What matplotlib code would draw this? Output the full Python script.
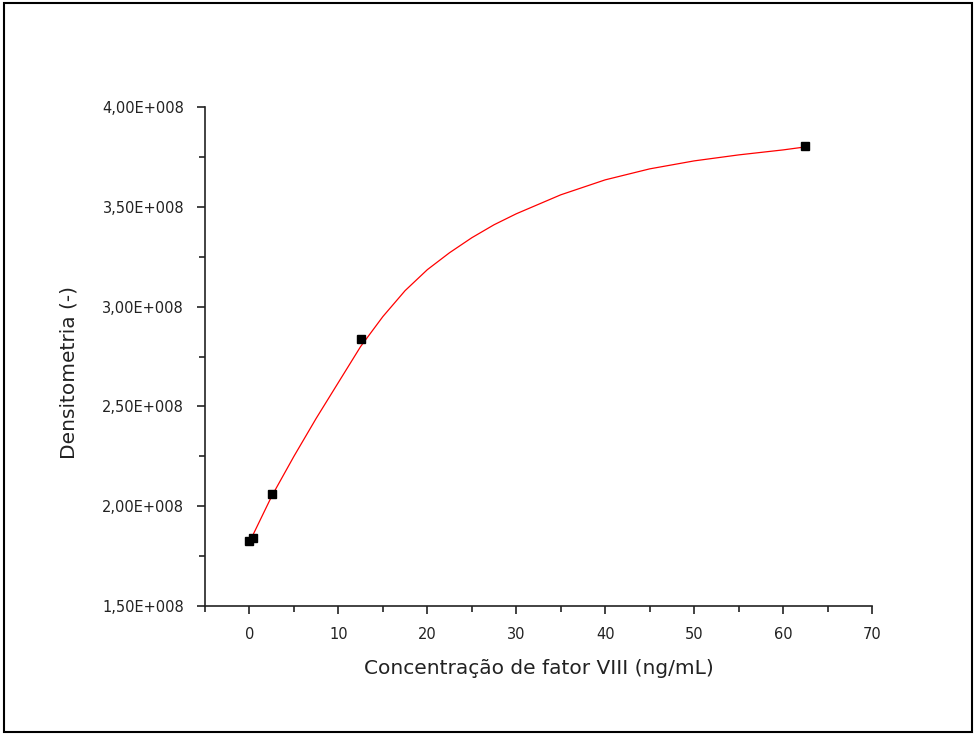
import matplotlib
matplotlib.use("Agg")
import matplotlib.pyplot as plt
from matplotlib.ticker import FuncFormatter, MultipleLocator
from matplotlib.patches import Rectangle
import math

# measured points
conc = [0.0, 0.4, 2.5, 12.5, 62.5]
dens = [1.826e8, 1.84e8, 2.06e8, 2.838e8, 3.805e8]

# fitted curve
fit_x = [0.0, 2.5, 5, 7.5, 10, 12.5, 15, 17.5, 20, 22.5, 25, 27.5, 30,
         35, 40, 45, 50, 55, 60, 62.5]
fit_y = [1.82e8, 2.05e8, 2.25e8, 2.44e8, 2.62e8, 2.80e8, 2.95e8, 3.08e8,
         3.185e8, 3.27e8, 3.345e8, 3.41e8, 3.465e8, 3.56e8, 3.635e8, 3.69e8,
         3.73e8, 3.76e8, 3.785e8, 3.80e8]

x_label = "Concentração de fator VIII (ng/mL)"
y_label = "Densitometria (-)"

plt.rcParams['font.family'] = ['DejaVu Sans']

fig = plt.figure(figsize=(9.75, 7.34), dpi=100)
ax = fig.add_axes([205/975, 1-606/734, (872-205)/975, (606-107)/734])

ax.plot(fit_x, fit_y, color='#ff0000', lw=0.9, zorder=2)
ax.plot(conc, dens, linestyle='none', marker='s', color='black', ms=6, zorder=3)

ax.set_xlim(-5, 70)
ax.set_ylim(1.5e8, 4.0e8)
ax.xaxis.set_major_locator(MultipleLocator(10))
ax.xaxis.set_minor_locator(MultipleLocator(5))
ax.yaxis.set_major_locator(MultipleLocator(0.5e8))
ax.yaxis.set_minor_locator(MultipleLocator(0.25e8))

def yfmt(v, pos):
    if v == 0:
        return "0"
    e = int(math.floor(math.log10(abs(v))))
    m = v / 10**e
    return f"{m:.2f}".replace('.', ',') + f"E+{e:03d}"

ax.yaxis.set_major_formatter(FuncFormatter(yfmt))

for s in ['top', 'right']:
    ax.spines[s].set_visible(False)
for s in ['left', 'bottom']:
    ax.spines[s].set_linewidth(1.2)
    ax.spines[s].set_color('#222222')

ax.tick_params(which='major', direction='out', length=6, width=1.2, labelsize=10.5, pad=9, colors='#222222')
ax.tick_params(which='minor', direction='out', length=4, width=1.2, colors='#222222')

ax.set_xlabel(x_label, fontsize=14.5, labelpad=12, color='#222222')
ax.set_ylabel(y_label, fontsize=14.5, color='#222222')
ax.yaxis.set_label_coords(-0.19, 0.467)

fig.patches.append(Rectangle((4/975, 2/734), 968/975, 729/734, transform=fig.transFigure,
                             fill=False, edgecolor='black', lw=1.5))

fig.savefig("out.png", dpi=100)
